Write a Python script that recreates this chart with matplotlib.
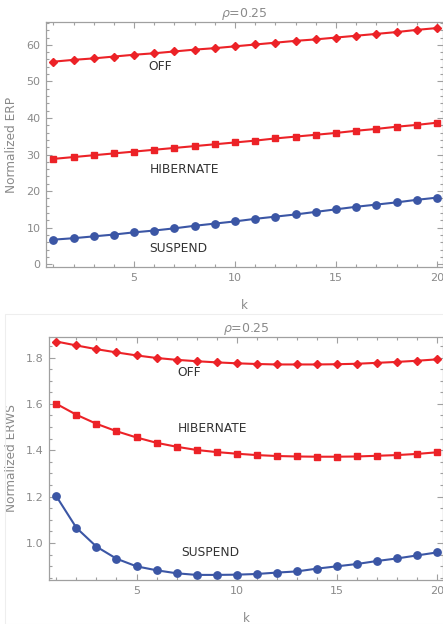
import matplotlib
matplotlib.use('Agg')
import matplotlib.pyplot as plt
from matplotlib.ticker import MultipleLocator
from matplotlib.patches import Rectangle

k = list(range(1, 21))

# Normalized ERP (top)
erp_off = [55.4, 55.9, 56.3, 56.8, 57.3, 57.7, 58.2, 58.7, 59.1, 59.6,
           60.1, 60.6, 61.1, 61.5, 62.0, 62.5, 63.0, 63.5, 64.1, 64.6]
erp_hib = [28.8, 29.3, 29.8, 30.3, 30.8, 31.3, 31.8, 32.3, 32.8, 33.3,
           33.8, 34.4, 34.9, 35.4, 35.9, 36.5, 37.0, 37.6, 38.1, 38.7]
erp_sus = [6.7, 7.1, 7.6, 8.1, 8.7, 9.2, 9.8, 10.5, 11.1, 11.7,
           12.4, 13.0, 13.6, 14.3, 15.0, 15.7, 16.3, 16.9, 17.6, 18.2]

# Normalized ERWS (bottom)
erws_off = [1.869, 1.852, 1.836, 1.822, 1.809, 1.798, 1.790, 1.784, 1.779, 1.775,
            1.772, 1.770, 1.770, 1.770, 1.771, 1.773, 1.777, 1.781, 1.786, 1.792]
erws_hib = [1.600, 1.553, 1.514, 1.482, 1.455, 1.432, 1.415, 1.401, 1.392, 1.385,
            1.379, 1.375, 1.373, 1.372, 1.372, 1.373, 1.376, 1.379, 1.384, 1.391]
erws_sus = [1.201, 1.065, 0.984, 0.932, 0.899, 0.882, 0.869, 0.862, 0.862, 0.863,
            0.866, 0.872, 0.877, 0.889, 0.899, 0.909, 0.922, 0.933, 0.946, 0.959]

RED = '#ec2227'
BLUE = '#3b56a5'
GRAY = '#8a8a8a'
FRAME = '#a0a0a0'
TXT = '#333333'


def style(ax, ymajor, yminor, ylim, ylabel):
    ax.set_xlim(0.64, 20.3)
    ax.set_ylim(*ylim)
    ax.xaxis.set_major_locator(MultipleLocator(5))
    ax.xaxis.set_minor_locator(MultipleLocator(1))
    ax.yaxis.set_major_locator(MultipleLocator(ymajor))
    ax.yaxis.set_minor_locator(MultipleLocator(yminor))
    ax.tick_params(which='both', direction='in', top=True, right=True,
                   color=FRAME, labelcolor=GRAY, labelsize=8, width=0.8)
    ax.tick_params(which='major', length=4, pad=4)
    ax.tick_params(which='minor', length=2)
    for s in ax.spines.values():
        s.set_color(FRAME)
        s.set_linewidth(0.9)
    ax.set_xlabel('k', color=GRAY, fontsize=8.5, labelpad=12)
    ax.set_ylabel(ylabel, color=GRAY, fontsize=8.7, labelpad=6)
    ax.set_title(r'$\rho$=0.25', color=GRAY, fontsize=9, pad=3)


plt.rcParams['font.family'] = ['DejaVu Sans']
plt.rcParams['mathtext.fontset'] = 'dejavusans'

fig = plt.figure(figsize=(4.43, 6.24), dpi=100)
fig.patches.append(Rectangle((5 / 443, 0.0), 1.0, 1 - 314 / 624,
                             transform=fig.transFigure, fill=False,
                             edgecolor='#eeeeee', linewidth=0.8))

ax1 = fig.add_axes([0.104, 0.572, 0.896, 0.393])
ax1.plot(k, erp_off, color=RED, lw=1.5, marker='D', ms=4)
ax1.plot(k, erp_hib, color=RED, lw=1.5, marker='s', ms=3.8)
ax1.plot(k, erp_sus, color=BLUE, lw=1.5, marker='o', ms=5.3)
ax1.text(6.3, 54.0, 'OFF', ha='center', va='center', fontsize=8.8, color=TXT)
ax1.text(7.5, 25.8, 'HIBERNATE', ha='center', va='center', fontsize=8.8, color=TXT)
ax1.text(7.2, 4.2, 'SUSPEND', ha='center', va='center', fontsize=8.8, color=TXT)
style(ax1, 10, 2, (-0.8, 66.3), 'Normalized ERP')

ax2 = fig.add_axes([0.111, 0.0705, 0.889, 0.39])
ax2.plot(k, erws_off, color=RED, lw=1.5, marker='D', ms=4)
ax2.plot(k, erws_hib, color=RED, lw=1.5, marker='s', ms=3.8)
ax2.plot(k, erws_sus, color=BLUE, lw=1.5, marker='o', ms=5.3)
ax2.text(7.65, 1.735, 'OFF', ha='center', va='center', fontsize=8.8, color=TXT)
ax2.text(8.8, 1.492, 'HIBERNATE', ha='center', va='center', fontsize=8.8, color=TXT)
ax2.text(8.7, 0.958, 'SUSPEND', ha='center', va='center', fontsize=8.8, color=TXT)
style(ax2, 0.2, 0.05, (0.84, 1.89), 'Normalized ERWS')

fig.savefig('out.png', dpi=100)
